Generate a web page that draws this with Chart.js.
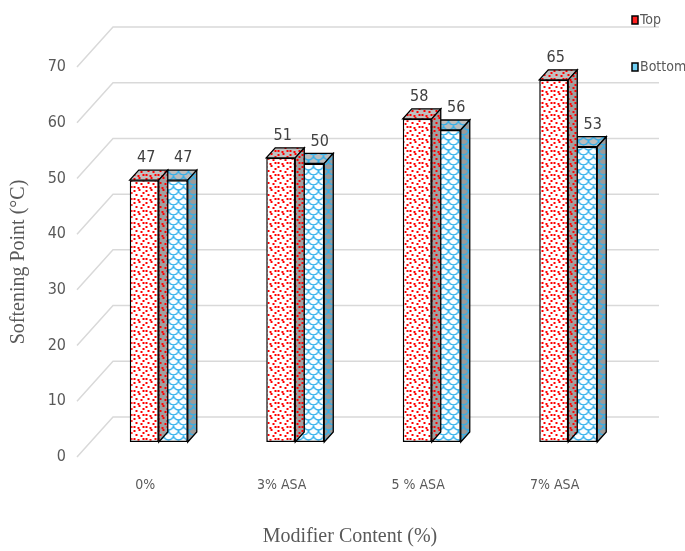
<!DOCTYPE html>
<html>
<head>
<meta charset="utf-8">
<title>Softening Point</title>
<script src="https://cdn.jsdelivr.net/npm/chart.js@4.4.1/dist/chart.umd.min.js"></script>
<style>
  html, body { margin: 0; padding: 0; background: #fff; }
  #wrap { width: 685px; height: 551px; position: relative; }
</style>
</head>
<body>
<div id="wrap"><canvas id="softening-chart"></canvas></div>
<script>
// Softening point per modifier content, top / bottom of the tube
const categories = ['0%', '3% ASA', '5 % ASA', '7% ASA'];
const topValues = [47, 51, 58, 65];
const bottomValues = [47, 50, 56, 53];
const seriesNames = ['Top', 'Bottom'];
const yTicks = [0, 10, 20, 30, 40, 50, 60, 70];

const NARROW = "'Liberation Sans Narrow', 'DejaVu Sans Condensed', sans-serif";
const SERIF = "'Liberation Serif', 'DejaVu Serif', serif";
const GREY_TEXT = '#595959';

// 3D look: side wall depth, where the boxes sit in it, box depth
const WALL = { dx: 36, dy: -40 };
const SHIFT = { dx: 13.5, dy: -15 };
const DEPTH = { dx: 9, dy: -10 };
const LABEL_DX = [2, 10];

const canvas = document.getElementById('softening-chart');
const ctx = canvas.getContext('2d');

/**
 * Small canvas used as a repeating fill
 */
function makeTile(w, h, bg, paint) {
    const c = document.createElement('canvas');
    c.width = w;
    c.height = h;
    const g = c.getContext('2d');
    g.fillStyle = bg;
    g.fillRect(0, 0, w, h);
    paint(g);
    return ctx.createPattern(c, 'repeat');
}

// red speckles
const DOT_POS = [[0, 1], [5, 0], [9, 3], [2, 5], [7, 6], [0, 9], [4, 10], [9, 9]];
function paintDots(g) {
    g.fillStyle = '#ff0000';
    DOT_POS.forEach(([x, y]) => g.fillRect(x, y, 2, 2));
}

// light blue scales
function paintScales(g) {
    g.strokeStyle = '#2fb0ec';
    g.lineWidth = 1.3;
    [[5, 0], [0, 5], [10, 5]].forEach(([cx, cy]) => {
        g.beginPath();
        g.arc(cx, cy, 5, 0, Math.PI);
        g.stroke();
    });
}

const fills = [
    {
        front: makeTile(12, 12, '#ffffff', paintDots),
        top: makeTile(12, 12, '#c0c0c0', paintDots),
        side: makeTile(12, 12, '#a0a0a0', paintDots)
    },
    {
        front: makeTile(10, 10, '#ffffff', paintScales),
        top: makeTile(10, 10, '#bdbdbd', paintScales),
        side: makeTile(10, 10, '#9a9a9a', paintScales)
    }
];

/**
 * Back wall and left wall grid lines
 */
function drawWalls(chart) {
    const { ctx, chartArea } = chart;
    const y = chart.scales.y;
    ctx.save();
    ctx.strokeStyle = '#d9d9d9';
    ctx.lineWidth = 1.5;
    yTicks.forEach(v => {
        const py = y.getPixelForValue(v);
        ctx.beginPath();
        ctx.moveTo(chartArea.left, py);
        ctx.lineTo(chartArea.left + WALL.dx, py + WALL.dy);
        ctx.lineTo(chartArea.right + WALL.dx, py + WALL.dy);
        ctx.stroke();
    });
    ctx.restore();
}

function face(ctx, pts, fill) {
    ctx.beginPath();
    ctx.moveTo(pts[0][0], pts[0][1]);
    pts.slice(1).forEach(p => ctx.lineTo(p[0], p[1]));
    ctx.closePath();
    ctx.fillStyle = fill;
    ctx.fill();
    ctx.stroke();
}

/**
 * Top and right faces of every box of a dataset
 */
function drawFaces(ctx, meta, index) {
    const f = fills[index];
    ctx.save();
    ctx.strokeStyle = '#000';
    ctx.lineWidth = 1.3;
    ctx.lineJoin = 'miter';
    meta.data.forEach(el => {
        const l = el.x - el.width / 2;
        const r = el.x + el.width / 2;
        const t = el.y;
        const b = el.base;
        face(ctx, [[l, t], [r, t], [r + DEPTH.dx, t + DEPTH.dy], [l + DEPTH.dx, t + DEPTH.dy]], f.top);
        face(ctx, [[r, t], [r + DEPTH.dx, t + DEPTH.dy], [r + DEPTH.dx, b + DEPTH.dy], [r, b]], f.side);
    });
    ctx.restore();
}

function drawValueLabels(chart) {
    const ctx = chart.ctx;
    ctx.save();
    ctx.font = '16px ' + NARROW;
    ctx.fillStyle = '#404040';
    ctx.textAlign = 'center';
    ctx.textBaseline = 'middle';
    chart.data.datasets.forEach((ds, i) => {
        chart.getDatasetMeta(i).data.forEach((el, j) => {
            const x = el.x + SHIFT.dx + LABEL_DX[i];
            const y = el.y + SHIFT.dy + DEPTH.dy - 12;
            ctx.fillText(String(ds.data[j]), x, y);
        });
    });
    ctx.restore();
}

function drawLegend(chart) {
    const ctx = chart.ctx;
    const rows = [20, 67];
    ctx.save();
    ctx.font = '14px ' + NARROW;
    ctx.textBaseline = 'middle';
    chart.data.datasets.forEach((ds, i) => {
        const y = rows[i];
        ctx.fillStyle = i === 0 ? '#ff2020' : '#6fd0f5';
        ctx.fillRect(632, y - 4, 6, 8);
        ctx.strokeStyle = '#000';
        ctx.lineWidth = 1.5;
        ctx.strokeRect(632, y - 4, 6, 8);
        ctx.fillStyle = GREY_TEXT;
        ctx.fillText(ds.label, 640, y);
    });
    ctx.restore();
}

const box3d = {
    id: 'box3d',
    beforeDatasetsDraw(chart) {
        drawWalls(chart);
    },
    beforeDatasetDraw(chart) {
        chart.ctx.save();
        chart.ctx.translate(SHIFT.dx, SHIFT.dy);
    },
    afterDatasetDraw(chart, args) {
        drawFaces(chart.ctx, args.meta, args.index);
        chart.ctx.restore();
    },
    afterDatasetsDraw(chart) {
        drawValueLabels(chart);
        drawLegend(chart);
    }
};

new Chart(ctx, {
    type: 'bar',
    data: {
        labels: categories,
        datasets: [topValues, bottomValues].map((values, i) => ({
            label: seriesNames[i],
            data: values,
            backgroundColor: fills[i].front,
            borderColor: '#000',
            borderWidth: 1.5,
            borderSkipped: false,
            categoryPercentage: 0.425,
            barPercentage: 1,
            clip: false
        }))
    },
    options: {
        responsive: true,
        maintainAspectRatio: false,
        animation: false,
        layout: {
            padding: { top: 67, right: 62, bottom: 0, left: 0 }
        },
        plugins: {
            legend: { display: false },
            tooltip: { enabled: false }
        },
        scales: {
            x: {
                grid: { display: false, drawTicks: false },
                border: { display: false },
                ticks: {
                    color: GREY_TEXT,
                    font: { family: NARROW, size: 14 },
                    padding: 20,
                    maxRotation: 0,
                    autoSkip: false
                },
                title: {
                    display: true,
                    text: 'Modifier Content (%)',
                    color: GREY_TEXT,
                    font: { family: SERIF, size: 20 },
                    padding: { top: 0, bottom: 2 }
                },
                afterFit: scale => { scale.height = 94; }
            },
            y: {
                min: 0,
                max: 70,
                grid: { display: false, drawTicks: false },
                border: { display: false },
                ticks: {
                    stepSize: 10,
                    color: GREY_TEXT,
                    font: { family: NARROW, size: 16 },
                    padding: 11
                },
                title: {
                    display: true,
                    text: 'Softening Point (°C)',
                    color: GREY_TEXT,
                    font: { family: SERIF, size: 20 },
                    padding: { top: 7, bottom: 0 }
                },
                afterFit: scale => { scale.width = 77; }
            }
        }
    },
    plugins: [box3d]
});
</script>
</body>
</html>
